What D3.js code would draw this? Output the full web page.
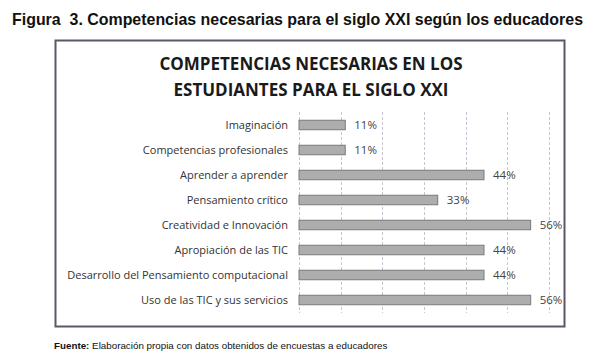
<!DOCTYPE html>
<html>
<head>
<meta charset="utf-8">
<script src="https://cdn.jsdelivr.net/npm/d3@7"></script>
<style>
  body { margin: 0; background: #fff; }
  svg { display: block; }
</style>
</head>
<body>
<svg id="chart" width="616" height="357"></svg>
<script>
// datos
var categories = ["Imaginación", "Competencias profesionales", "Aprender a aprender",
  "Pensamiento crítico", "Creatividad e Innovación", "Apropiación de las TIC",
  "Desarrollo del Pensamiento computacional", "Uso de las TIC y sus servicios"];
var values = [0.111, 0.111, 0.444, 0.333, 0.556, 0.444, 0.444, 0.556];
var valueLabels = ["11%", "11%", "44%", "33%", "56%", "44%", "44%", "56%"];
var gridTicks = [0, 0.1, 0.2, 0.3, 0.4, 0.5, 0.6];

var svg = d3.select("#chart");

var x = d3.scaleLinear().domain([0, 0.6]).range([299, 549]);
var y = d3.scaleBand().domain(categories).range([112.5, 312.5]).paddingInner(0.62).paddingOuter(0.31);

// titulo de la figura
svg.append("text")
    .attr("x", 12)
    .attr("y", 25)
    .attr("textLength", 571)
    .attr("lengthAdjust", "spacingAndGlyphs")
    .style("font", "bold 16.5px 'Liberation Sans', Arial, sans-serif")
    .style("white-space", "pre")
    .attr("fill", "#111")
    .text("Figura  3. Competencias necesarias para el siglo XXI según los educadores");

// marco del grafico
svg.append("rect")
    .attr("x", 55.5)
    .attr("y", 40.5)
    .attr("width", 509)
    .attr("height", 286)
    .attr("fill", "#fff")
    .attr("stroke", "#5e5666")
    .attr("stroke-width", 2);

var title = svg.append("text")
    .attr("text-anchor", "middle")
    .style("font", "bold 17px 'Open Sans', sans-serif")
    .attr("fill", "#1a1a1a");
title.append("tspan").attr("x", 311).attr("y", 70).text("COMPETENCIAS NECESARIAS EN LOS");
title.append("tspan").attr("x", 311).attr("y", 96).text("ESTUDIANTES PARA EL SIGLO XXI");

// lineas de la grilla
svg.append("g")
  .selectAll("line")
  .data(gridTicks)
  .join("line")
    .attr("x1", d => Math.round(x(d)) + 0.5)
    .attr("x2", d => Math.round(x(d)) + 0.5)
    .attr("y1", 112)
    .attr("y2", 313)
    .attr("stroke", "#c9c4d4")
    .attr("stroke-width", 1)
    .attr("stroke-dasharray", "3,2");

// barras
svg.append("g")
  .selectAll("rect")
  .data(values)
  .join("rect")
    .attr("x", x(0))
    .attr("y", (d, i) => y(categories[i]))
    .attr("width", d => x(d) - x(0))
    .attr("height", y.bandwidth())
    .attr("fill", "#adadad")
    .attr("stroke", "#7a7a7a")
    .attr("stroke-width", 1);

// etiquetas de categoria
svg.append("g")
  .selectAll("text")
  .data(categories)
  .join("text")
    .attr("x", 288)
    .attr("y", d => y(d) + y.bandwidth() / 2)
    .attr("dy", "0.35em")
    .attr("text-anchor", "end")
    .style("font", "11px 'Open Sans', sans-serif")
    .attr("fill", "#333")
    .text(d => d);

// etiquetas de valor
svg.append("g")
  .selectAll("text")
  .data(values)
  .join("text")
    .attr("x", d => x(d) + 9)
    .attr("y", (d, i) => y(categories[i]) + y.bandwidth() / 2)
    .attr("dy", "0.38em")
    .style("font", "11.5px 'Open Sans', sans-serif")
    .attr("fill", "#444")
    .text((d, i) => valueLabels[i]);

// fuente
var src = svg.append("text")
    .attr("x", 54)
    .attr("y", 349)
    .style("font", "9.8px 'Liberation Sans', Arial, sans-serif")
    .attr("fill", "#111");
src.append("tspan").style("font-weight", "bold").text("Fuente:");
src.append("tspan").text(" Elaboración propia con datos obtenidos de encuestas a educadores");
</script>
</body>
</html>
